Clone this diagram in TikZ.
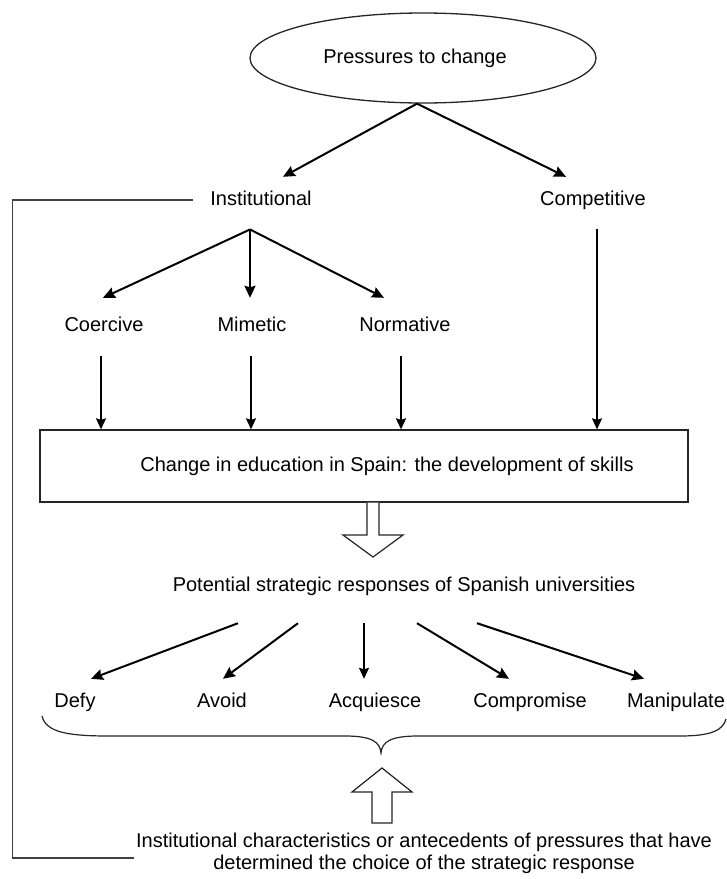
\documentclass[tikz,border=0pt]{standalone}
\usepackage{fontspec}
\setmainfont{Liberation Sans}
\usetikzlibrary{shapes.geometric,arrows.meta}
\begin{document}
\begin{tikzpicture}[x=1pt,y=-1pt,
  txt/.style={font=\fontsize{20}{22}\selectfont, text=black},
  lbl/.style={txt, inner sep=0pt, text height=14.5pt, text depth=4pt},
  arr/.style={line width=2pt, black, -{Stealth[length=12pt,width=11pt,inset=1.5pt]}},
  varr/.style={line width=1.7pt, black, -{Stealth[length=11pt,width=10pt,inset=1.5pt]}},
  frame/.style={line width=1.3pt, draw=black!85},
  hollow/.style={line width=1.2pt, draw=black!85, fill=white},
  bracket/.style={line width=1.2pt, draw=black!75}]
\fill[white] (0,0) rectangle (727,879);
\useasboundingbox (0,0) rectangle (727,879);

% nodes
\node[ellipse, frame, minimum width=346pt, minimum height=90pt, inner sep=0pt, txt] (press) at (423,58) {Pressures to change\hspace*{16pt}};
\node[lbl] (inst) at (261,200) {Institutional};
\node[lbl] (comp) at (593,200) {Competitive};
\node[lbl] (coer) at (104,326) {Coercive};
\node[lbl] (mime) at (252,326) {Mimetic};
\node[lbl] (norm) at (405,326) {Normative};
\node[frame, minimum width=648pt, minimum height=72pt, inner sep=0pt, txt] (box) at (364,466) {\hspace*{46pt}Change in education in Spain: the development of skills};
\node[lbl] (pot) at (404,586) {Potential strategic responses of Spanish universities};
\node[lbl] (defy) at (75,702) {Defy};
\node[lbl] (avoid) at (222,702) {Avoid};
\node[lbl] (acq) at (375,702) {Acquiesce};
\node[lbl] (compr) at (530,702) {Compromise};
\node[lbl] (manip) at (676,702) {Manipulate};
\node[txt, inner sep=0pt, align=center] (chars) at (424,853) {Institutional characteristics or antecedents of pressures that have\\determined the choice of the strategic response};

% top arrows
\draw[arr] ([xshift=-6pt]press.south) -- ([xshift=22pt,yshift=13.75pt]inst.north);
\draw[arr] ([xshift=-6pt]press.south) -- ([xshift=-27pt,yshift=13.75pt]comp.north);
\coordinate (iap) at ([xshift=-11pt,yshift=-20pt]inst.south);
\draw[arr] (iap) -- ([xshift=-1pt,yshift=18.75pt]coer.north);
\draw[arr] (iap) -- ([xshift=-2pt,yshift=18.75pt]mime.north);
\draw[arr] (iap) -- ([xshift=-21pt,yshift=18.75pt]norm.north);

% vertical arrows into box
\coordinate (c1) at ([xshift=-3pt,yshift=-20.75pt]coer.south);
\coordinate (c2) at ([xshift=-1pt,yshift=-20.75pt]mime.south);
\coordinate (c3) at ([xshift=-4pt,yshift=-20.75pt]norm.south);
\coordinate (c4) at ([xshift=4pt,yshift=-19.75pt]comp.south);
\draw[varr] (c1) -- (c1 |- box.north);
\draw[varr] (c2) -- (c2 |- box.north);
\draw[varr] (c3) -- (c3 |- box.north);
\draw[varr] (c4) -- (c4 |- box.north);

% hollow arrow down
\draw[hollow] (367,502.6) -- (367,535) -- (343,535) -- (373,557) -- (403,535) -- (379,535) -- (379,502.6);

% response arrows
\draw[arr] ([xshift=-166pt,yshift=-27.75pt]pot.south) -- ([xshift=16pt,yshift=13.75pt]defy.north);
\draw[arr] ([xshift=-106pt,yshift=-27.75pt]pot.south) -- ([xshift=1pt,yshift=13.75pt]avoid.north);
\draw[varr] ([xshift=-40pt,yshift=-27.75pt]pot.south) -- ([xshift=-11pt,yshift=13.75pt]acq.north);
\draw[arr] ([xshift=13pt,yshift=-27.75pt]pot.south) -- ([xshift=-21pt,yshift=13.75pt]compr.north);
\draw[arr] ([xshift=73pt,yshift=-27.75pt]pot.south) -- ([xshift=-32pt,yshift=13.75pt]manip.north);

% brace
\draw[line width=1.2pt, black!85] (42,716) .. controls (46,733) and (70,736) .. (110,736) -- (345,736) .. controls (372,736) and (380,742) .. (381,753) .. controls (382,742) and (390,736) .. (418,736) -- (680,736) .. controls (712,736) and (723,730) .. (726,719);

% hollow arrow up
\draw[hollow] (382,768) -- (412,792) -- (392,792) -- (392,823) -- (372,823) -- (372,792) -- (352,792) -- cycle;

% left bracket line
\draw[bracket] ([xshift=-17pt]inst.west) -- ++(-181,0) |- ([xshift=-2pt,yshift=-5pt]chars.west);
\end{tikzpicture}
\end{document}
